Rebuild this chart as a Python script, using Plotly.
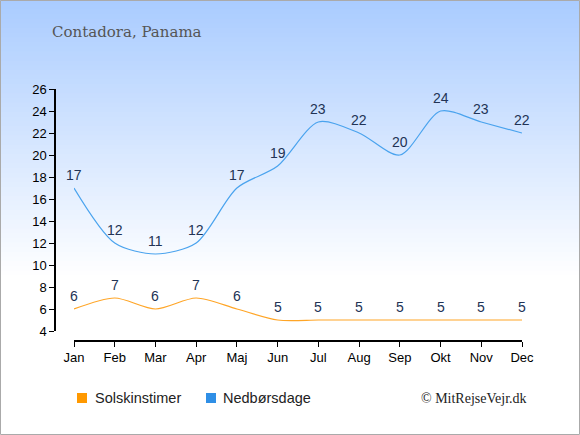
import plotly.graph_objects as go

# data
months = ['Jan', 'Feb', 'Mar', 'Apr', 'Maj', 'Jun', 'Jul', 'Aug', 'Sep', 'Okt', 'Nov', 'Dec']
sol = [6, 7, 6, 7, 6, 5, 5, 5, 5, 5, 5, 5]
regn = [17, 12, 11, 12, 17, 19, 23, 22, 20, 24, 23, 22]
y_ticks = list(range(4, 27, 2))

W, H = 580, 435
ML, MR, MT, MB = 55, 58, 89, 94
pw = W - ML - MR
ph = H - MT - MB


def px(x):
    return (x - ML) / pw


def py(y):
    # pixel fra toppen -> paper
    return (H - MB - y) / ph


fig = go.Figure()

# baggrund: gradient lavet af smalle striber
top = (170, 204, 255)
n = 60
grad_h = 280
shapes = []
for i in range(n):
    t = i / (n - 1)
    c = tuple(round(top[k] + (255 - top[k]) * t) for k in range(3))
    shapes.append(dict(type='rect', xref='paper', yref='paper', x0=px(0), x1=px(W),
                       y0=py(i * grad_h / n), y1=py((i + 1) * grad_h / n + 0.6),
                       line=dict(width=0), fillcolor='rgb(%d,%d,%d)' % c, layer='below'))

# legend-firkanter
shapes.append(dict(type='rect', xref='paper', yref='paper', x0=px(77), x1=px(87),
                   y0=py(393), y1=py(403), line=dict(width=0), fillcolor='#ff9900'))
shapes.append(dict(type='rect', xref='paper', yref='paper', x0=px(206), x1=px(216),
                   y0=py(393), y1=py(403), line=dict(width=0), fillcolor='#2f8fe6'))
# ramme
shapes.append(dict(type='rect', xref='paper', yref='paper', x0=px(0.5), x1=px(W - 0.5),
                   y0=py(H - 0.5), y1=py(0.5), line=dict(color='#aaaaaa', width=1)))

fig.add_trace(go.Scatter(x=months, y=sol, mode='lines', name='Solskinstimer',
                         line=dict(color='#ffa526', width=1.2, shape='spline', smoothing=0.8),
                         showlegend=False, cliponaxis=False))
fig.add_trace(go.Scatter(x=months, y=regn, mode='lines', name='Nedbørsdage',
                         line=dict(color='#4aa3ee', width=1.2, shape='spline', smoothing=0.8),
                         showlegend=False, cliponaxis=False))

# værdietiketter
for serie in (sol, regn):
    for m, v in zip(months, serie):
        fig.add_annotation(x=m, y=v, text=str(v), showarrow=False, yshift=13,
                           xanchor='center', yanchor='middle',
                           font=dict(color='#223355', size=14, family='Liberation Sans'))

# legend-tekst
fig.add_annotation(xref='paper', yref='paper', x=px(93), y=py(398), text='Solskinstimer',
                   showarrow=False, xanchor='left', yanchor='middle',
                   font=dict(size=14.5, family='Liberation Sans', color='#222'))
fig.add_annotation(xref='paper', yref='paper', x=px(221), y=py(398), text='Nedbørsdage',
                   showarrow=False, xanchor='left', yanchor='middle',
                   font=dict(size=14.5, family='Liberation Sans', color='#222'))
fig.add_annotation(xref='paper', yref='paper', x=px(529), y=py(398), text='© MitRejseVejr.dk',
                   showarrow=False, xanchor='right', yanchor='middle',
                   font=dict(size=14, family='Liberation Serif', color='#222'))
fig.add_annotation(xref='paper', yref='paper', x=px(50), y=py(32), text='Contadora, Panama',
                   showarrow=False, xanchor='left', yanchor='middle',
                   font=dict(size=15, family='DejaVu Serif', color='#555555'))

fig.update_layout(
    width=W, height=H,
    margin=dict(l=ML, r=MR, t=MT, b=MB),
    paper_bgcolor='white', plot_bgcolor='rgba(0,0,0,0)',
    xaxis=dict(domain=[px(74), 1], range=[0, 11], anchor='free', position=0,
               showline=True, linecolor='black', linewidth=1.5, ticks='outside', ticklen=5,
               tickcolor='black', showgrid=False, zeroline=False,
               tickfont=dict(size=13, family='Liberation Sans', color='black')),
    yaxis=dict(domain=[10 / ph, 1], range=[4, 26], anchor='free', position=0,
               tickvals=y_ticks, showline=True, linecolor='black', linewidth=1.5,
               ticks='outside', ticklen=5, tickcolor='black', showgrid=False, zeroline=False,
               tickfont=dict(size=13, family='Liberation Sans', color='black')),
    shapes=shapes,
)

fig.write_html("out.html", config={'displayModeBar': False},
               post_script="document.body.style.margin='0';")
